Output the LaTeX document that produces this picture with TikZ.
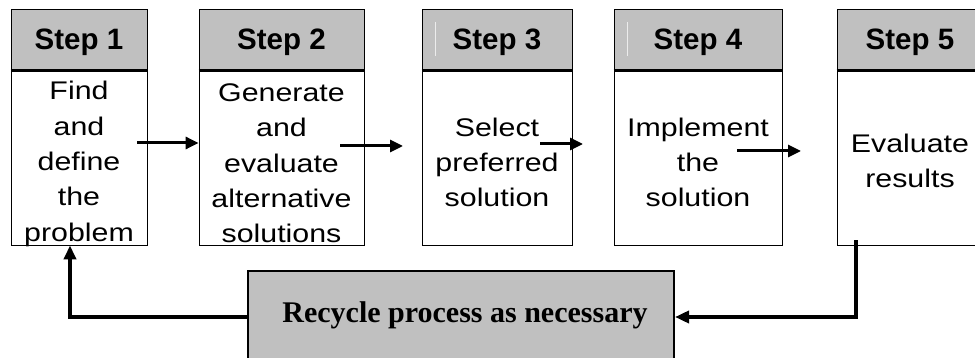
\documentclass[tikz,border=0pt]{standalone}
\usepackage{fontspec}
\setmainfont{Liberation Sans}
\newfontfamily\bodyfont{Liberation Sans}[FakeStretch=1.19]
\newfontfamily\recfont{Liberation Serif}
\usetikzlibrary{arrows.meta}
\definecolor{hdrgray}{HTML}{C0C0C0}
\begin{document}
\begin{tikzpicture}[x=1pt,y=-1pt,
  hdr/.style={draw=black, line width=0.8pt, fill=hdrgray, inner sep=0pt,
    minimum height=61pt, text height=21pt, text depth=0pt,
    font=\bfseries\fontsize{29.5}{33}\selectfont},
  body/.style={draw=black, line width=0.8pt, inner sep=0pt, minimum height=175pt},
  txt/.style={inner sep=0pt, align=center, font=\bodyfont\fontsize{25.5}{35.3}\selectfont},
  rule/.style={line width=3pt},
  gleam/.style={draw=white!70!hdrgray, line width=0.6pt},
  flow/.style={line width=3pt, -{Triangle[length=13pt,width=12pt]}},
  loop/.style={line width=3.5pt, line join=miter, -{Triangle[length=14pt,width=12pt]}},
  recbox/.style={draw=black, line width=2pt, fill=hdrgray, inner sep=0pt,
    minimum width=426pt, minimum height=89pt,
    font=\recfont\bfseries\fontsize{30}{34}\selectfont}]
\clip (0,0) rectangle (975,358);
\fill[white] (0,0) rectangle (975,358);

% step headers
\node[hdr, minimum width=136pt] (h1) at (79,39.5)  {Step 1};
\node[hdr, minimum width=165pt] (h2) at (281.5,39.5) {Step 2};
\node[hdr, minimum width=150pt] (h3) at (497,39.5) {Step 3};
\node[hdr, minimum width=168pt] (h4) at (698,39.5) {Step 4};
\node[hdr, minimum width=146pt] (h5) at (910,39.5) {Step 5};

% faint highlights in two of the headers
\draw[gleam] (435,22) -- (435,56);
\draw[gleam] (627,22) -- (627,56);

% step bodies
\node[body, minimum width=136pt] (b1) at (79,157.5) {};
\node[body, minimum width=165pt] (b2) at (281.5,157.5) {};
\node[body, minimum width=150pt] (b3) at (497,157.5) {};
\node[body, minimum width=168pt] (b4) at (698,157.5) {};
\node[body, minimum width=146pt] (b5) at (910,157.5) {};

% step descriptions, set slightly below the middle of each body
\node[txt] (t1) at ([yshift=-6.5pt]b1.center) {Find\\and\\define\\the\\problem};
\node[txt] (t2) at ([yshift=-6pt]b2.center) {Generate\\and\\evaluate\\alternative\\solutions};
\node[txt] (t3) at ([yshift=-5pt]b3.center) {Select\\preferred\\solution};
\node[txt] (t4) at ([yshift=-5pt]b4.center) {Implement\\the\\solution};
\node[txt] (t5) at ([yshift=-3.5pt]b5.center) {Evaluate\\results};

% thick rule under each header
\foreach \h in {h1,h2,h3,h4,h5}
  \draw[rule] (\h.south west) -- (\h.south east);

% forward arrows between the steps
\coordinate (s12) at (137,143);
\coordinate (s23) at (340,146);
\coordinate (e23) at (403,146);
\coordinate (s34) at (540,144);
\coordinate (e34) at (583,144);
\coordinate (s45) at (737,151);
\coordinate (e45) at (801,151);
\draw[flow] (s12) -- (b2.west |- s12);
\draw[flow] (s23) -- (e23);
\draw[flow] (s34) -- (e34);
\draw[flow] (s45) -- (e45);

% recycle box and feedback loop
\node[recbox] (rec) at (461,315.5) {\hspace*{8pt}Recycle process as necessary};
\coordinate (up5) at ([xshift=-54pt,yshift=5pt]b5.south);
\coordinate (back1) at ([xshift=-9pt]b1.south);
\draw[loop] (up5) |- ([yshift=-1.5pt]rec.east);
\draw[loop] ([yshift=-1.5pt]rec.west) -| (back1);
\end{tikzpicture}
\end{document}
